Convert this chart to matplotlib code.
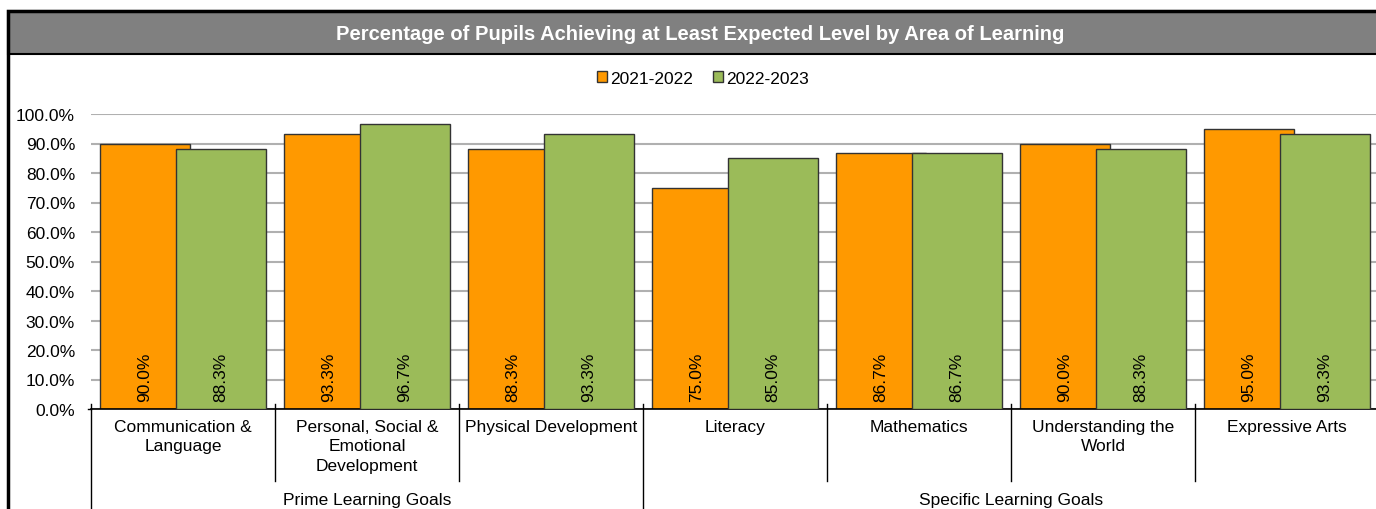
import matplotlib
matplotlib.use("Agg")
import matplotlib.pyplot as plt
from matplotlib.patches import Rectangle
from matplotlib.transforms import blended_transform_factory
import numpy as np

# ── data ──────────────────────────────────────────────────────
categories = ["Communication &\nLanguage", "Personal, Social &\nEmotional\nDevelopment",
              "Physical Development", "Literacy", "Mathematics",
              "Understanding the\nWorld", "Expressive Arts"]
groups      = ["Prime Learning Goals", "Specific Learning Goals"]
group_sizes = [3, 4]
series      = ["2021-2022", "2022-2023"]
vals_2122   = [90.0, 93.3, 88.3, 75.0, 86.7, 90.0, 95.0]
vals_2223   = [88.3, 96.7, 93.3, 85.0, 86.7, 88.3, 93.3]
yticks      = [0, 10, 20, 30, 40, 50, 60, 70, 80, 90, 100]

ORANGE, GREEN = "#FF9900", "#9BBB59"
FS = 12.5
plt.rcParams["font.family"] = ["Liberation Sans", "DejaVu Sans"]

W, H = 1376, 510
fig = plt.figure(figsize=(W / 100, H / 100), dpi=100)

# ── frame + title band ────────────────────────────────────────
def fx(px): return px / W
def fy(py): return 1 - py / H

fig.patches.append(Rectangle((fx(8), fy(55)), fx(1400) - fx(8), fy(12) - fy(55),
                             transform=fig.transFigure, facecolor="#808080",
                             edgecolor="black", lw=1.5, zorder=0))
fig.patches.append(Rectangle((fx(8), fy(600)), fx(1400) - fx(8), fy(12) - fy(600),
                             transform=fig.transFigure, facecolor="none",
                             edgecolor="black", lw=2.5, zorder=5))
fig.text(fx(700), fy(34), "Percentage of Pupils Achieving at Least Expected Level by Area of Learning",
         ha="center", va="center", color="white", fontsize=14.5, fontweight="bold")

# ── axes ──────────────────────────────────────────────────────
ax = fig.add_axes([fx(91), fy(410), fx(1379) - fx(91), fy(115) - fy(410)])
x = np.arange(len(categories)) + 0.5
bw, off = 0.489, 0.207
b1 = ax.bar(x - off, vals_2122, bw, color=ORANGE, edgecolor="#333333", lw=1, zorder=2, label=series[0])
b2 = ax.bar(x + off, vals_2223, bw, color=GREEN, edgecolor="#333333", lw=1, zorder=3, label=series[1])

for bars, vals in ((b1, vals_2122), (b2, vals_2223)):
    for r, v in zip(bars, vals):
        ax.text(r.get_x() + r.get_width() / 2, 2.8, f"{v:.1f}%", rotation=90,
                ha="center", va="bottom", fontsize=FS, zorder=4)

ax.set_xlim(0, len(categories))
ax.set_ylim(0, 100)
ax.set_yticks(yticks)
ax.set_yticklabels([f"{t:.1f}%" for t in yticks], fontsize=FS)
ax.tick_params(axis="y", length=0, pad=11.5)
ax.set_xticks([])
ax.grid(axis="y", color="#b0b0b0", lw=1.5, zorder=0)
for s in ("top", "right", "left"):
    ax.spines[s].set_visible(False)
ax.spines["bottom"].set_color("black")
ax.spines["bottom"].set_linewidth(1.2)

# ── hierarchical category axis ────────────────────────────────
tr = blended_transform_factory(ax.transData, ax.transAxes)
for xi, lab in zip(x, categories):
    ax.text(xi, -0.033, lab, transform=tr, ha="center", va="top", fontsize=FS,
            linespacing=1.38)

edges = np.cumsum([0] + group_sizes)
for b in range(1, len(categories)):
    if b in edges:
        continue
    ax.plot([b, b], [0.017, -0.245], transform=tr, color="black", lw=1, clip_on=False)
for b in edges:
    ax.plot([b, b], [0.017, -0.5], transform=tr, color="black", lw=1, clip_on=False)
for g, a, bnd in zip(groups, edges[:-1], edges[1:]):
    ax.text((a + bnd) / 2, -0.282, g, transform=tr, ha="center", va="top", fontsize=FS)
ax.plot([-0.015, 0], [0, 0], transform=tr, color="black", lw=1, clip_on=False)

# ── legend ────────────────────────────────────────────────────
fig.legend(handles=[b1, b2], loc="center", bbox_to_anchor=(fx(703), fy(79)), ncol=2,
           frameon=False, fontsize=FS, handlelength=0.57, handleheight=0.57,
           handletextpad=0.17, columnspacing=1.2)

fig.savefig("out.png", dpi=100)
